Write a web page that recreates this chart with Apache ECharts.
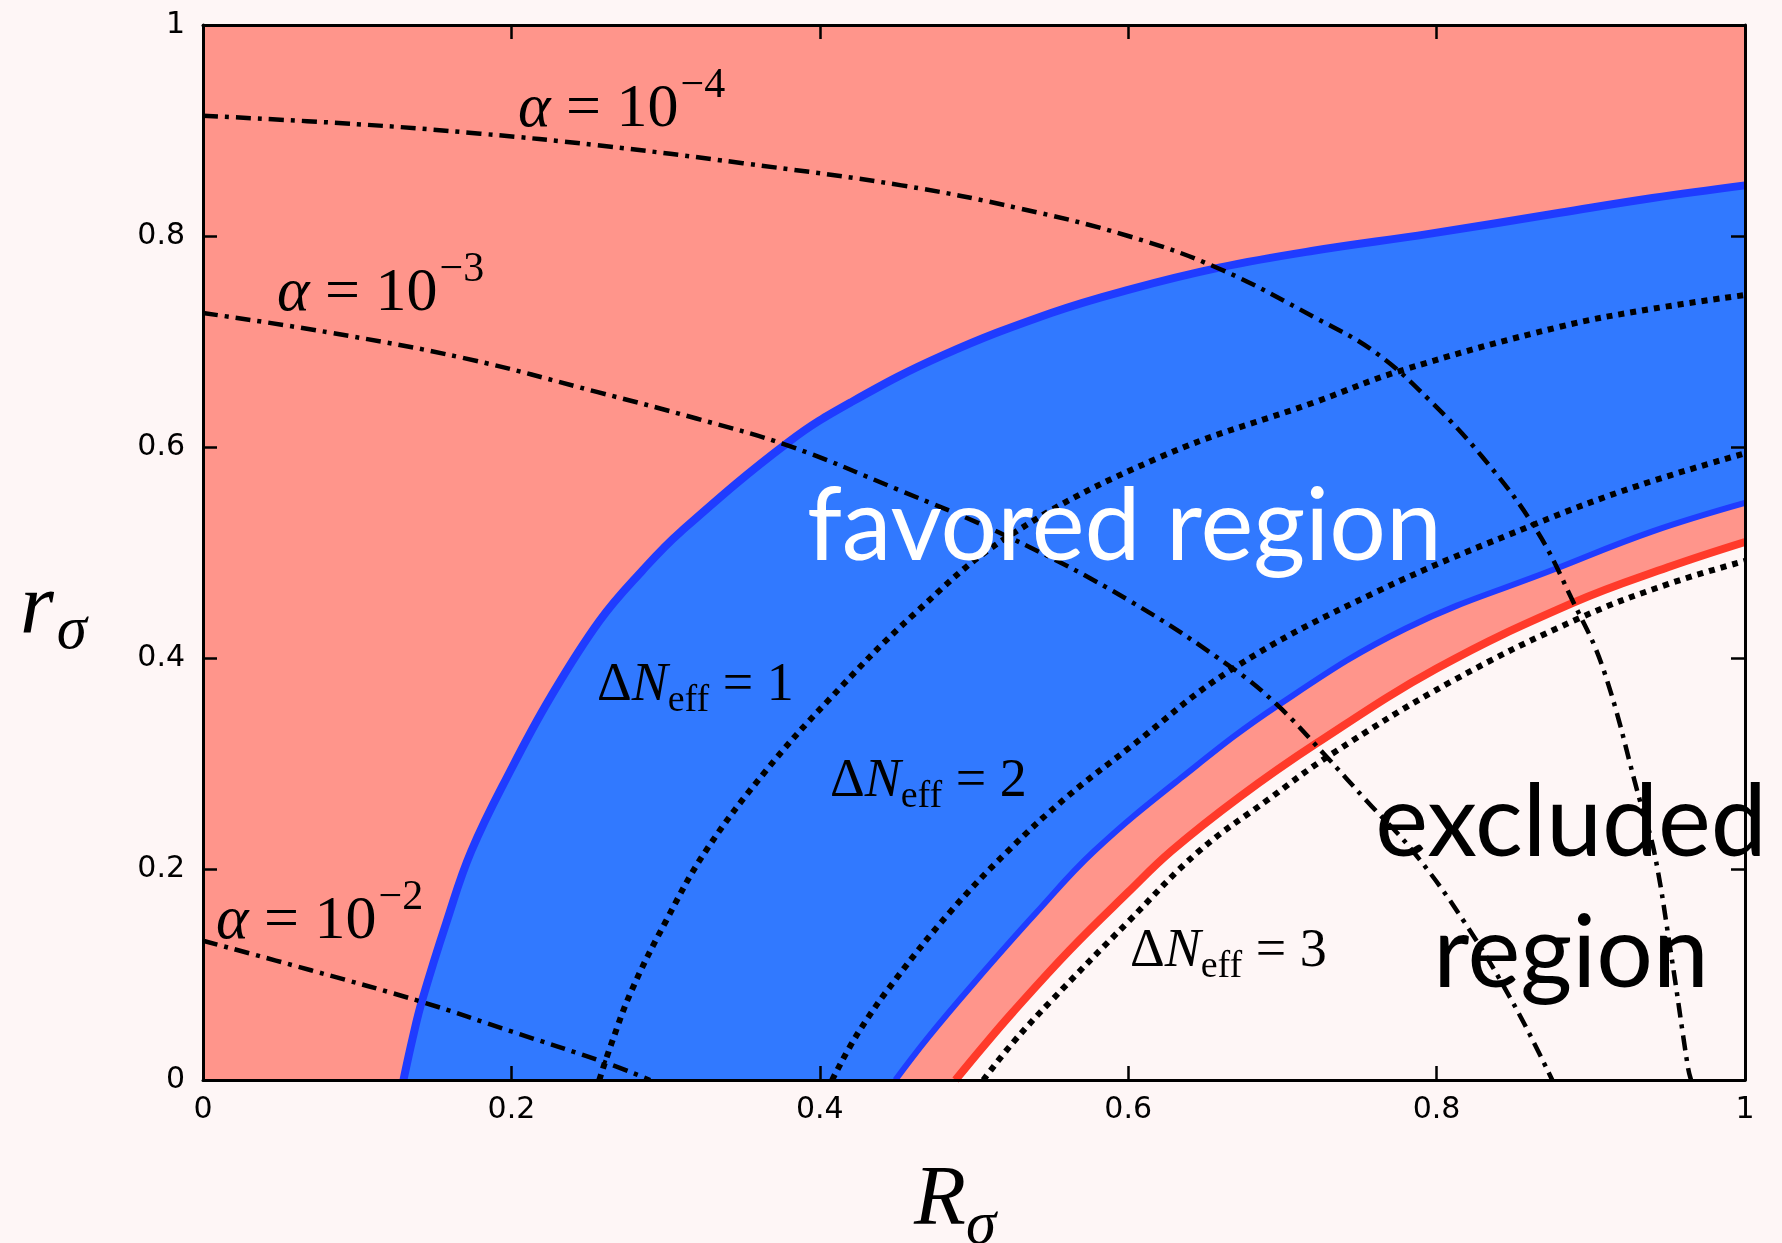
<!DOCTYPE html>
<html><head><meta charset="utf-8">
<script src="https://cdn.jsdelivr.net/npm/echarts/dist/echarts.min.js"></script>
<style>html,body{margin:0;padding:0;background:#fef6f6}#c{width:1782px;height:1243px}</style>
</head><body><div id="c"></div>
<script>
// ---- data ----
const xTicks = [0, 0.2, 0.4, 0.6, 0.8, 1];
const yTicks = [0, 0.2, 0.4, 0.6, 0.8, 1];
const favoredOuter = [[0.130,0],[0.136,0.04],[0.142,0.075],[0.158,0.150],[0.174,0.217],[0.20,0.295],[0.225,0.362],[0.257,0.435],[0.285,0.483],[0.31,0.52],[0.380,0.605],[0.421,0.643],[0.48,0.687],[0.55,0.727],[0.60,0.749],[0.659,0.770],[0.72,0.786],[0.795,0.802],[0.88,0.822],[0.94,0.836],[1.0,0.848]];
const favoredInner = [[0.449,0],[0.47,0.04],[0.50,0.092],[0.54,0.158],[0.578,0.217],[0.634,0.286],[0.697,0.355],[0.78,0.428],[0.878,0.485],[0.94,0.52],[1.0,0.547]];
const excludedEdge = [[0.488,0],[0.505,0.03],[0.525,0.064],[0.562,0.123],[0.60,0.178],[0.628,0.217],[0.672,0.268],[0.722,0.319],[0.80,0.39],[0.888,0.452],[0.95,0.486],[1.0,0.510]];
const dNeff1 = [[0.257,0],[0.265,0.035],[0.278,0.085],[0.30,0.15],[0.326,0.217],[0.365,0.293],[0.405,0.359],[0.46,0.44],[0.522,0.515],[0.62,0.59],[0.722,0.643],[0.776,0.672],[0.88,0.714],[0.94,0.731],[1.0,0.744]];
const dNeff2 = [[0.408,0],[0.425,0.045],[0.450,0.097],[0.485,0.16],[0.522,0.217],[0.56,0.268],[0.60,0.314],[0.668,0.390],[0.76,0.462],[0.864,0.527],[0.93,0.563],[1.0,0.594]];
const dNeff3 = [[0.506,0],[0.525,0.035],[0.55,0.075],[0.60,0.15],[0.646,0.217],[0.69,0.265],[0.732,0.309],[0.81,0.378],[0.893,0.438],[0.95,0.47],[1.0,0.492]];
const alpha4 = [[0,0.914],[0.1,0.906],[0.18,0.897],[0.256,0.886],[0.35,0.869],[0.453,0.848],[0.53,0.826],[0.60,0.800],[0.659,0.769],[0.722,0.722],[0.76,0.69],[0.795,0.645],[0.83,0.59],[0.864,0.523],[0.888,0.455],[0.908,0.390],[0.932,0.264],[0.941,0.217],[0.952,0.12],[0.963,0.012],[0.965,0]];
const alpha3 = [[0,0.727],[0.08,0.709],[0.17,0.684],[0.256,0.652],[0.32,0.627],[0.38,0.601],[0.45,0.560],[0.522,0.515],[0.60,0.455],[0.668,0.390],[0.697,0.355],[0.727,0.309],[0.755,0.264],[0.784,0.218],[0.817,0.152],[0.85,0.072],[0.875,0]];
const alpha2 = [[0,0.132],[0.07,0.104],[0.142,0.074],[0.20,0.046],[0.26,0.017],[0.29,0]];
const alphaExps = ['−4', '−3', '−2'];
const neffValues = ['1', '2', '3'];
const regionTexts = ['favored region', 'excluded', 'region'];

// ---- styles ----
const BG = '#fef6f6', SALMON = '#ff958b', BLUE = '#3179ff', BLUE_LINE = '#1f3cff', RED = '#ff3a2a';
const MATH = '"Liberation Serif", "DejaVu Serif", serif';

function curve(data, color, width, type, area, z) {
  const s = { type: 'line', data: data, symbol: 'none', smooth: 0.4, z: z,
    lineStyle: { color: color, width: width, type: type, cap: 'butt', join: 'round' }, silent: true };
  if (area) s.areaStyle = { color: area, opacity: 1 };
  return s;
}
const DOT = [6, 6], DASHDOT = [15, 7, 4, 7];

function axisBase(extra) {
  return Object.assign({
    type: 'value', min: 0, max: 1, interval: 0.2, z: 10,
    axisLine: { show: true, onZero: false, lineStyle: { color: '#000', width: 3 } },
    axisTick: { show: true, inside: true, length: 14, lineStyle: { color: '#000', width: 2.5 } },
    splitLine: { show: false },
    axisLabel: { show: true, color: '#000', fontFamily: 'DejaVu Sans', fontSize: 30,
      formatter: v => (v === 0 ? '0' : v === 1 ? '1' : v.toFixed(1)) }
  }, extra);
}

function mathLabel(x, y, text) {
  return { type: 'text', x: x, y: y, z: 100, silent: true,
    style: { text: text, align: 'left', verticalAlign: 'middle', fill: '#000',
      rich: {
        a: { fontFamily: MATH, fontSize: 62, fontStyle: 'italic', fill: '#000' },
        n: { fontFamily: MATH, fontSize: 62, fill: '#000' },
        sup: { fontFamily: MATH, fontSize: 42, fill: '#000', padding: [0, 0, 48, 2] },
        d: { fontFamily: MATH, fontSize: 54, fill: '#000' },
        i: { fontFamily: MATH, fontSize: 54, fontStyle: 'italic', fill: '#000' },
        sub: { fontFamily: MATH, fontSize: 38, fill: '#000', padding: [30, 0, 0, 0] }
      } } };
}

const chart = echarts.init(document.getElementById('c'), null, { renderer: 'canvas' });
chart.setOption({
  animation: false,
  backgroundColor: BG,
  grid: { left: 203, right: 37, top: 25, bottom: 163, containLabel: false, show: true, backgroundColor: SALMON, borderWidth: 0 },
  xAxis: [
    axisBase({ position: 'bottom', axisLabel: Object.assign(axisBase({}).axisLabel, { margin: 15 }) }),
    axisBase({ position: 'top', axisLabel: { show: false } })
  ],
  yAxis: [
    axisBase({ position: 'left', axisLabel: Object.assign(axisBase({}).axisLabel, { margin: 18 }) }),
    axisBase({ position: 'right', axisLabel: { show: false } })
  ],
  series: [
    curve(favoredOuter, BLUE_LINE, 8, 'solid', BLUE, 2),
    curve(favoredInner, BLUE_LINE, 6, 'solid', SALMON, 3),
    curve(excludedEdge, RED, 8, 'solid', BG, 4),
    curve(dNeff1, '#000', 6, DOT, null, 5),
    curve(dNeff2, '#000', 6, DOT, null, 5),
    curve(dNeff3, '#000', 6, DOT, null, 5),
    curve(alpha4, '#000', 4.5, DASHDOT, null, 6),
    curve(alpha3, '#000', 4.5, DASHDOT, null, 6),
    curve(alpha2, '#000', 4.5, DASHDOT, null, 6)
  ],
  graphic: [
    mathLabel(518, 110, '{a|α}{n| = 10}{sup|' + alphaExps[0] + '}'),
    mathLabel(277, 294, '{a|α}{n| = 10}{sup|' + alphaExps[1] + '}'),
    mathLabel(216, 922, '{a|α}{n| = 10}{sup|' + alphaExps[2] + '}'),
    mathLabel(597, 686, '{d|Δ}{i|N}{sub|eff}{d| = ' + neffValues[0] + '}'),
    mathLabel(830, 782, '{d|Δ}{i|N}{sub|eff}{d| = ' + neffValues[1] + '}'),
    mathLabel(1130, 952, '{d|Δ}{i|N}{sub|eff}{d| = ' + neffValues[2] + '}'),
    { type: 'text', x: 807, y: 528, z: 100, silent: true,
      style: { text: regionTexts[0], fill: '#fff', font: '100px Lato', align: 'left', verticalAlign: 'middle' } },
    { type: 'text', x: 1571, y: 824, z: 100, silent: true,
      style: { text: regionTexts[1], fill: '#000', font: '100px Lato', align: 'center', verticalAlign: 'middle' } },
    { type: 'text', x: 1571, y: 955, z: 100, silent: true,
      style: { text: regionTexts[2], fill: '#000', font: '100px Lato', align: 'center', verticalAlign: 'middle' } },
    { type: 'text', x: 20, y: 610, z: 100, silent: true,
      style: { text: '{r|r}{s|σ}', align: 'left', verticalAlign: 'middle',
        rich: { r: { fontFamily: MATH, fontSize: 87, fontStyle: 'italic', fill: '#000' },
                s: { fontFamily: MATH, fontSize: 61, fontStyle: 'italic', fill: '#000', padding: [43, 0, 0, 3] } } } },
    { type: 'text', x: 914, y: 1202, z: 100, silent: true,
      style: { text: '{r|R}{s|σ}', align: 'left', verticalAlign: 'middle',
        rich: { r: { fontFamily: MATH, fontSize: 85, fontStyle: 'italic', fill: '#000' },
                s: { fontFamily: MATH, fontSize: 61, fontStyle: 'italic', fill: '#000', padding: [49, 0, 0, 0] } } } }
  ]
});
</script>
</body></html>
